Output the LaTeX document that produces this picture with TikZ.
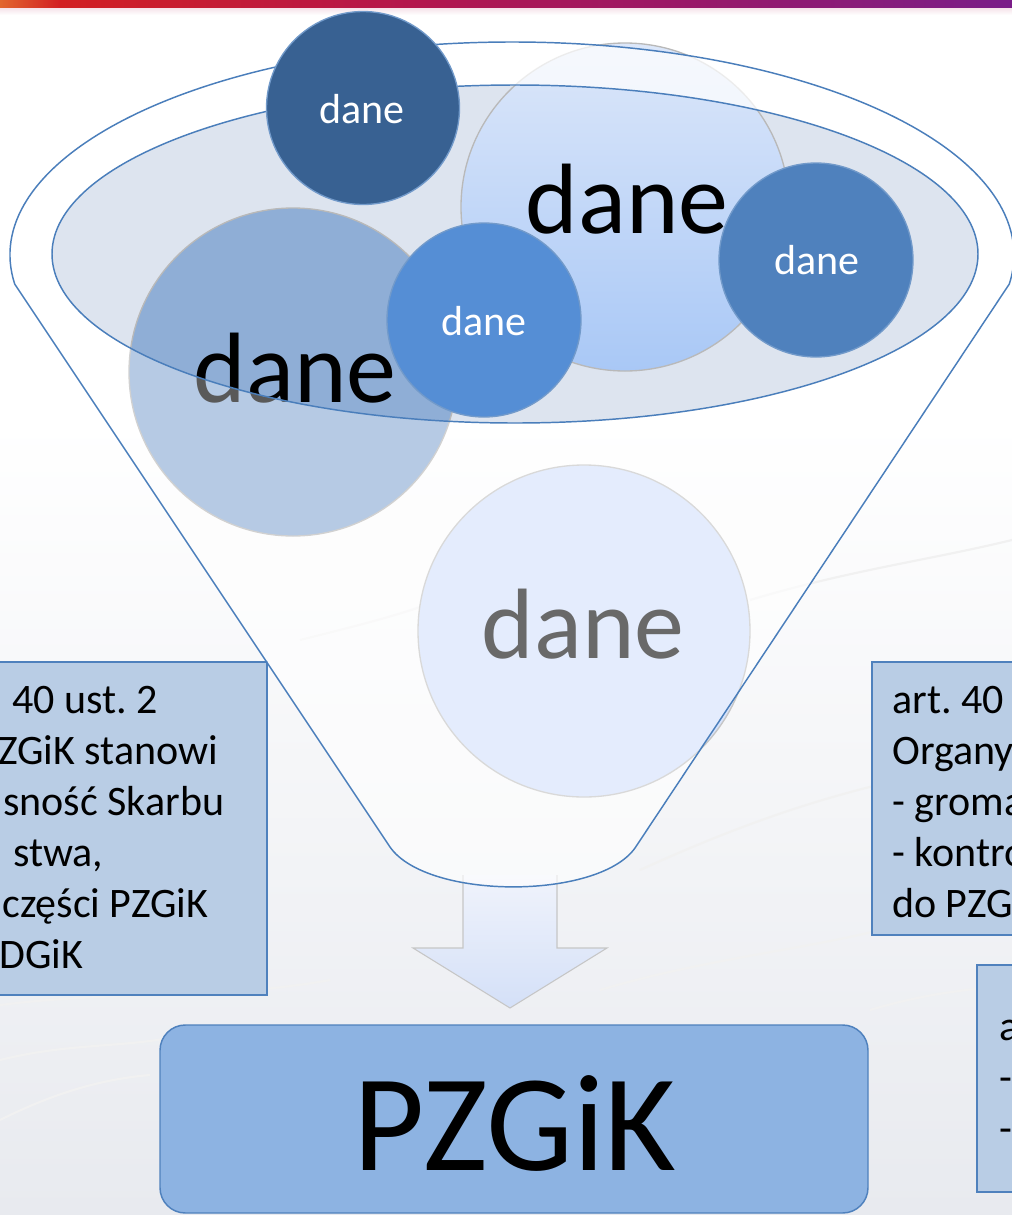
\documentclass[tikz,border=0pt]{standalone}
\usepackage{fontspec}
\setmainfont{Carlito}
\frenchspacing
\definecolor{lineblue}{HTML}{4A7EBB}
\definecolor{darkc}{HTML}{386192}
\definecolor{midc}{HTML}{558ED5}
\definecolor{rightc}{HTML}{4F81BD}
\definecolor{leftbig}{HTML}{8FAED6}
\definecolor{uptop}{HTML}{DCE7FA}
\definecolor{upbot}{HTML}{A9C8F6}
\definecolor{botc}{HTML}{D6E3FC}
\definecolor{ellfill}{HTML}{DDE4EF}
\definecolor{boxfill}{HTML}{B9CDE5}
\definecolor{pzfill}{HTML}{8DB3E2}
\definecolor{bgbot}{HTML}{E8EAEF}
\definecolor{barA}{HTML}{E2662E}
\definecolor{barB}{HTML}{D21E22}
\definecolor{barC}{HTML}{B3174E}
\definecolor{barD}{HTML}{7A1C88}
\definecolor{arrtop}{HTML}{F0F3FB}
\definecolor{arrbot}{HTML}{D4E0F8}
\newcommand\funnelshape{(14.7,284) arc[start angle=172.17, end angle=367.83, x radius=502, y radius=213] -- (635,848) .. controls (598,900) and (427,900) .. (390,847) -- cycle}
\newcommand\innerell{(515,254) ellipse[x radius=463, y radius=169]}
\tikzset{
  rim/.style={draw=lineblue, line width=1.1pt},
  smallc/.style={draw=rightc!80!white, line width=1pt},
  bigc/.style={draw=gray!55, line width=1pt},
  sidebox/.style={fill=boxfill, draw=rightc, line width=1.1pt},
  boxtext/.style={anchor=base west, inner sep=0pt, font=\fontsize{31.5}{38}\selectfont},
  smalltext/.style={anchor=base, inner sep=0pt, text=white, font=\fontsize{31.5}{38}\selectfont},
  bigtext/.style={anchor=base, inner sep=0pt, font=\fontsize{75}{90}\selectfont},
  wave/.style={draw=gray!11, line width=1.6pt},
}
\begin{document}
\begin{tikzpicture}[x=0.75pt,y=-0.75pt]
\useasboundingbox (0,0) rectangle (1012,1215);
% background
\fill[white] (0,0) rectangle (1012,1215);
\shade[top color=white, bottom color=bgbot] (0,420) rectangle (1012,1215);
% faint contour lines
\draw[wave] (0,1005) .. controls (120,990) and (220,1000) .. (330,980);
\draw[wave] (0,1060) .. controls (80,1040) and (140,1050) .. (200,1030);
\draw[wave] (600,990) .. controls (700,960) and (800,950) .. (880,930);
\draw[wave] (640,870) .. controls (750,820) and (860,780) .. (1012,760);
\draw[wave] (870,1010) .. controls (920,995) and (960,990) .. (1012,985);
\draw[wave] (300,640) .. controls (360,625) and (400,615) .. (440,600);
\draw[wave] (750,600) .. controls (850,570) and (930,560) .. (1012,540);
\draw[wave] (0,1120) .. controls (40,1100) and (90,1080) .. (150,1075);
% top bar
\shade[left color=barA, right color=barB] (0,0) rectangle (60,8);
\shade[left color=barB, right color=barC] (60,0) rectangle (420,8);
\shade[left color=barC, right color=barD] (420,0) rectangle (1012,8);
\shade[top color=barC!12, bottom color=white] (0,8) rectangle (1012,15);
% arrow
\path[top color=arrtop, bottom color=arrbot, draw=gray!45, line width=0.8pt]
  (463,875) -- (463,948) -- (413,948) -- (510,1008) -- (607,948) -- (557,948) -- (557,875);
% side boxes
\path[sidebox] (-10,662) rectangle (267,995);
\node[boxtext] (l1) at (12,713) {40 ust. 2};
\node[boxtext] (l2) at (-2,764) {ZGiK stanowi};
\node[boxtext] (l3) at (3,815) {sność Skarbu};
\node[boxtext] (l4) at (13,866) {stwa,};
\node[boxtext] (l5) at (2,917) {części PZGiK};
\node[boxtext] (l6) at (-1,968) {DGiK};
\path[sidebox] (872,662) rectangle (1030,935);
\node[boxtext] (r1) at (892,713) {art. 40};
\node[boxtext] (r2) at (892,764) {Organy};
\node[boxtext] (r3) at (892,815) {- groma};
\node[boxtext] (r4) at (892,866) {- kontro};
\node[boxtext] (r5) at (892,917) {do PZG};
\path[sidebox] (977,965) rectangle (1030,1192);
\node[boxtext] (s1) at (999,1040) {a};
\node[boxtext] (s2) at (999,1091) {-};
\node[boxtext] (s3) at (999,1142) {-};
% PZGiK box
\path[fill=pzfill, draw=rightc, line width=1.1pt, rounded corners=19pt] (160,1025) rectangle (868,1213);
\node[anchor=base, inner sep=0pt, font=\fontsize{103.5}{120}\selectfont] (pz) at (515,1170) {PZGiK};
% funnel body
\fill[white, opacity=0.45] \funnelshape;
\fill[ellfill] \innerell;
% big upper circle
\shade[top color=uptop, bottom color=upbot] (625,207) circle[radius=164];
\draw[bigc] (625,207) circle[radius=164];
% big left circle
\fill[leftbig] (293,372) circle[radius=164];
\draw[bigc] (293,372) circle[radius=164];
\node[bigtext] (t5) at (295,402) {dane};
% bottom circle
\fill[botc] (584,631) circle[radius=166];
\draw[bigc, draw=gray!45] (584,631) circle[radius=166];
\node[bigtext, text=black!90] (t6) at (583,658) {dane};
% overlays
\fill[white, opacity=0.35, even odd rule] \funnelshape \innerell;
\begin{scope}
  \clip (0,0) rectangle (1012,254);
  \fill[white, opacity=0.6, even odd rule] (512,255) ellipse[x radius=502, y radius=213] \innerell;
\end{scope}
% outlines
\draw[rim] \funnelshape;
\draw[rim] \innerell;
% small circles
\fill[darkc] (363,108) circle[radius=96.5];
\draw[smallc] (363,108) circle[radius=96.5];
\node[smalltext] (t1) at (362,123) {dane};
\fill[midc] (484,320) circle[radius=97];
\draw[smallc] (484,320) circle[radius=97];
\node[smalltext] (t2) at (484,335) {dane};
\fill[rightc] (816,260) circle[radius=97];
\draw[smallc] (816,260) circle[radius=97];
\node[smalltext] (t3) at (817,274) {dane};
\node[bigtext] (t4) at (627,233) {dane};
\end{tikzpicture}
\end{document}
